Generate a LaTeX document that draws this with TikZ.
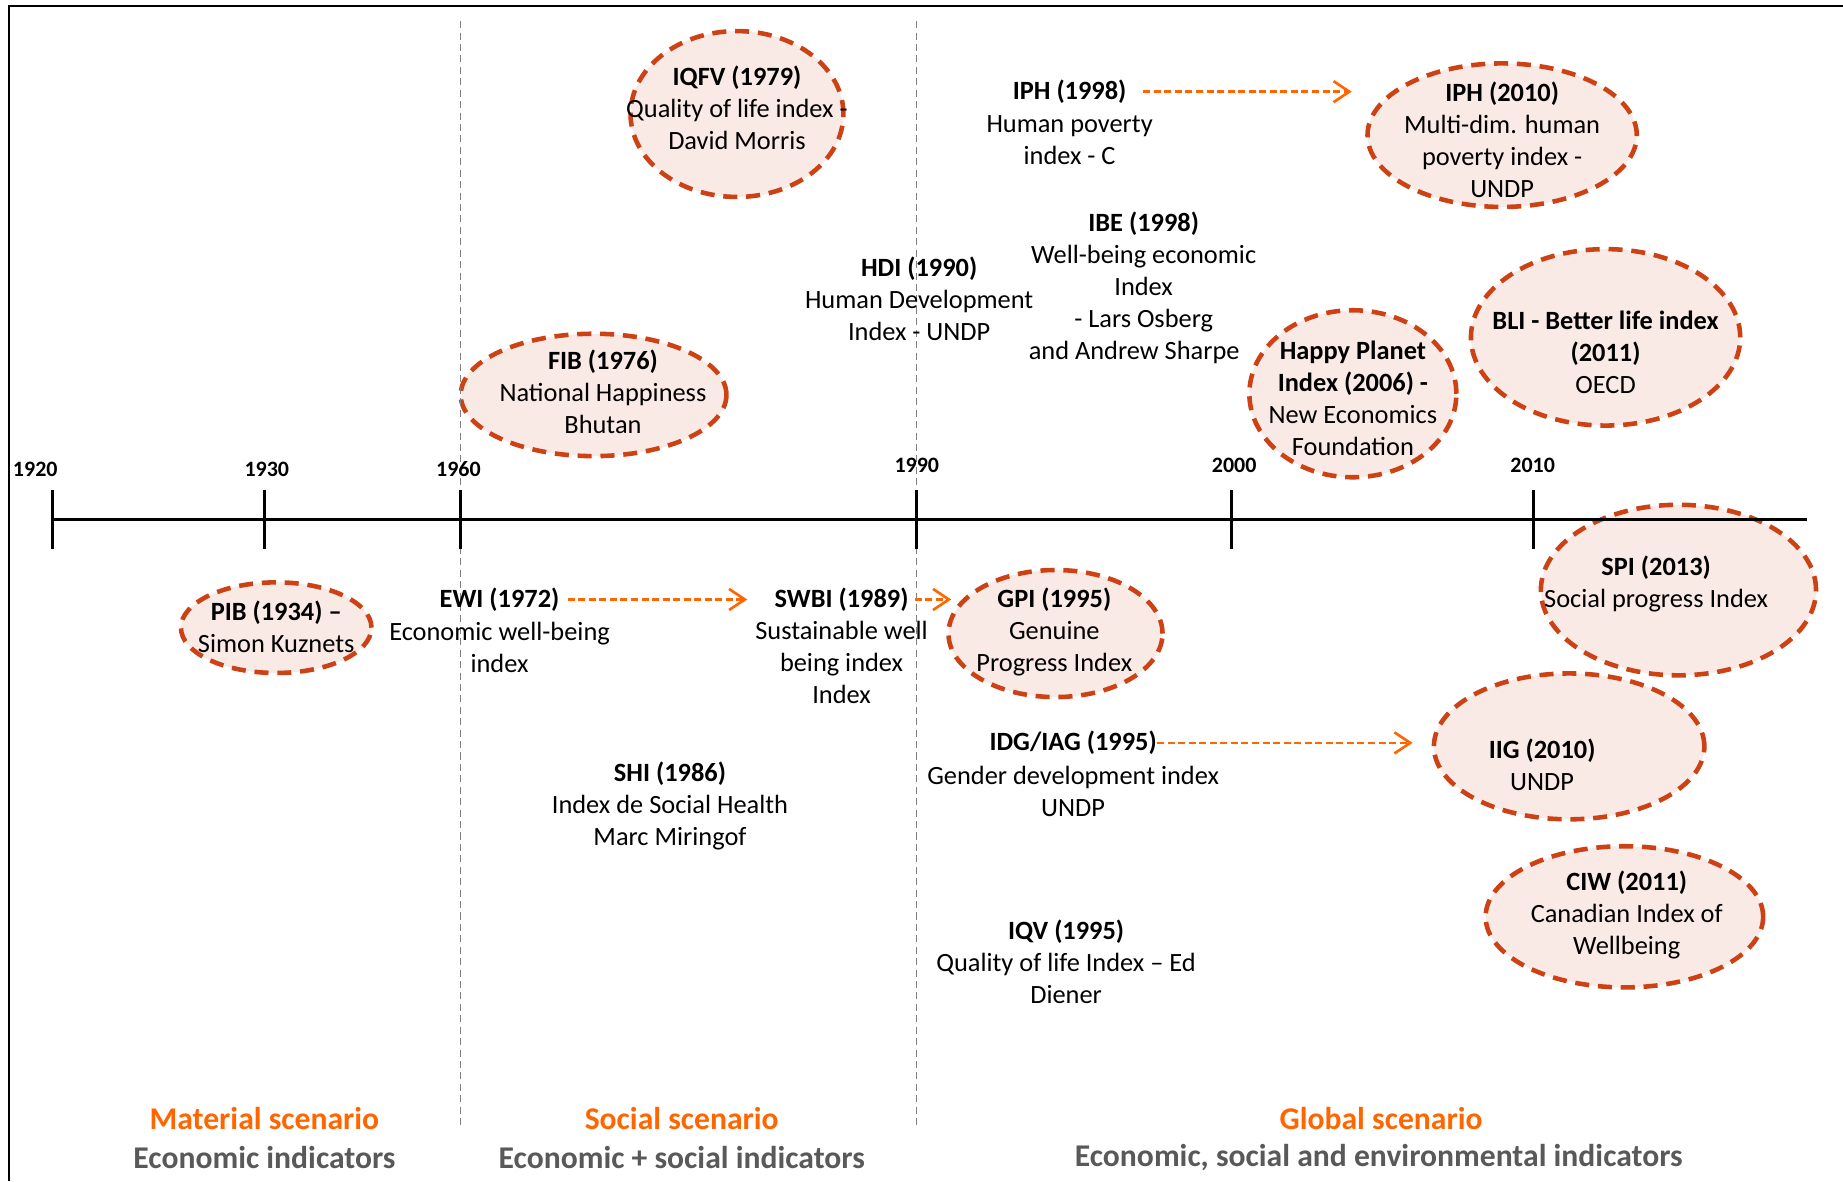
\documentclass[tikz,border=0pt]{standalone}
\usepackage{fontspec}
\setmainfont{Carlito}
\usetikzlibrary{shapes.geometric,arrows.meta,positioning}

\definecolor{ovalline}{RGB}{204,66,20}
\definecolor{ovalfill}{RGB}{250,234,229}
\definecolor{linkor}{RGB}{255,102,0}
\definecolor{scengray}{RGB}{89,89,89}

\begin{document}
\begin{tikzpicture}[x=0.0235cm, y=-0.0235cm,
  oval/.style 2 args={ellipse, draw=ovalline, fill=ovalfill, line width=2.6pt,
    dash pattern=on 8pt off 5pt, inner sep=0pt,
    minimum width=#1*0.0235cm-2.6pt, minimum height=#2*0.0235cm-2.6pt},
  entry/.style={align=center, inner sep=0pt, font=\fontsize{15}{18.2}\selectfont},
  head/.style={entry, font=\fontsize{15}{18.2}\selectfont\bfseries},
  yearlbl/.style={inner sep=0pt, font=\fontsize{12.5}{15}\selectfont\bfseries},
  scen/.style={inner sep=0pt, text=linkor, font=\fontsize{18}{21}\selectfont\bfseries},
  scensub/.style={scen, text=scengray},
  sepline/.style={draw=gray, line width=0.7pt, dash pattern=on 4pt off 2.5pt},
  link/.style={draw=linkor, line width=1.5pt, dash pattern=on 4pt off 2pt,
    -{Straight Barb[length=9pt,width=12pt]}}]

  \useasboundingbox (0,0) rectangle (1568,1005);

  % ovals behind everything
  \node[oval={185}{145}] (iqfvOval) at (627,97) {};
  \node[oval={230}{108}] (fibOval) at (505,336) {};
  \node[oval={233}{126}] (iph10Oval) at (1278,115) {};
  \node[oval={180}{146}] (hpiOval) at (1151,335) {};
  \node[oval={233}{154}] (bliOval) at (1366,287) {};
  \node[oval={166}{81}] (pibOval) at (235,534) {};
  \node[oval={186}{112}] (gpiOval) at (898,539) {};
  \node[oval={238}{149}] (spiOval) at (1428,502) {};
  \node[oval={234}{128}] (iigOval) at (1335,635) {};
  \node[oval={240}{124}] (ciwOval) at (1382,780) {};

  % frame, scenario limits and time axis
  \draw[line width=1.2pt] (8,1005) -- (8,5) -- (1568,5);
  \draw[sepline] (392,18) -- (392,957);
  \draw[sepline] (780,18) -- (780,957);
  \draw[line width=1.8pt] (45,442) -- (1537,442);
  \foreach \x/\yr/\lx/\ly in {45/1920/30/399, 225/1930/227/399, 392/1960/390/399,
      780/1990/780/396, 1048/2000/1050/396, 1305/2010/1304/396}{
    \draw[line width=1.8pt] (\x,417) -- (\x,467);
    \node[yearlbl] (y\yr) at (\lx,\ly) {\yr};
  }

  % indices above the axis
  \node[entry] (iqfv) at (627,92) {\textbf{IQFV (1979)}\\Quality of life index -\\David Morris};
  \node[entry] (fib) at (513,333) {\textbf{FIB (1976)}\\National Happiness\\Bhutan};
  \node[entry] (hdi) at (782,254) {\textbf{HDI (1990)}\\Human Development\\Index - UNDP};
  \node[head] (iph98) at (910,78) {IPH (1998)};
  \node[entry] (iph98d) at (910,119.5) {Human poverty\\index - C};
  \node[entry] (iph10) at (1278,119) {\textbf{IPH (2010)}\\Multi-dim. human\\poverty index -\\UNDP};
  \node[entry] (ibe) at (973,244.5) {\textbf{IBE (1998)}\\Well-being economic\\Index\\- Lars Osberg\\and Andrew Sharpe\hspace*{0.38cm}};
  \node[entry] (hpi) at (1151,339) {\textbf{Happy Planet}\\\textbf{Index (2006) -}\\New Economics\\Foundation};
  \node[entry] (bli) at (1366,300) {\textbf{BLI - Better life index}\\\textbf{(2011)}\\OECD};

  % indices below the axis
  \node[entry] (pib) at (235,533) {\textbf{PIB (1934) –}\\Simon Kuznets};
  \node[head] (ewi) at (425,510) {EWI (1972)};
  \node[entry] (ewid) at (425,550.5) {Economic well-being\\index};
  \node[head] (swbi) at (716,510) {SWBI (1989)};
  \node[entry] (swbid) at (716,564) {Sustainable well\\being index\\Index};
  \node[entry] (gpi) at (897,538) {\textbf{GPI (1995)}\\Genuine\\Progress Index};
  \node[entry] (shi) at (570,686) {\textbf{SHI (1986)}\\Index de Social Health\\Marc Miringof};
  \node[entry] (spi) at (1409,497) {\textbf{SPI (2013)}\\Social progress Index};
  \node[head] (idg) at (913,632) {IDG/IAG (1995)};
  \node[entry] (idgd) at (913,673.5) {Gender development index\\UNDP};
  \node[entry] (iig) at (1312,650.5) {\textbf{IIG (2010)}\\UNDP};
  \node[entry] (ciw) at (1384,778.5) {\textbf{CIW (2011)}\\Canadian Index of\\Wellbeing};
  \node[entry] (iqv) at (907,818) {\textbf{IQV (1995)}\\Quality of life Index – Ed\\Diener};

  % successors
  \draw[link, shorten <=0.33cm, shorten >=0.27cm] (iph98.east) -- (iph98.east -| iph10Oval.west);
  \draw[link, shorten <=0.16cm, shorten >=0.54cm] (ewi.east) -- (swbi.west);
  \draw[link, shorten <=0.12cm, shorten >=-0.1cm] (swbi.east) -- (swbi.east -| gpiOval.west);
  \draw[link, shorten >=0.38cm] (idg.east) -- (idg.east -| iigOval.west);

  % scenarios
  \node[scen] (matS) at (225,952) {Material scenario};
  \node[scensub] (matI) at (225,985) {Economic indicators};
  \node[scen] (socS) at (580,952) {Social scenario};
  \node[scensub] (socI) at (580,985) {Economic + social indicators};
  \node[scen] (gloS) at (1175,952) {Global scenario};
  \node[scensub] (gloI) at (1173,985) {Economic, social and environmental indicators};
\end{tikzpicture}
\end{document}
